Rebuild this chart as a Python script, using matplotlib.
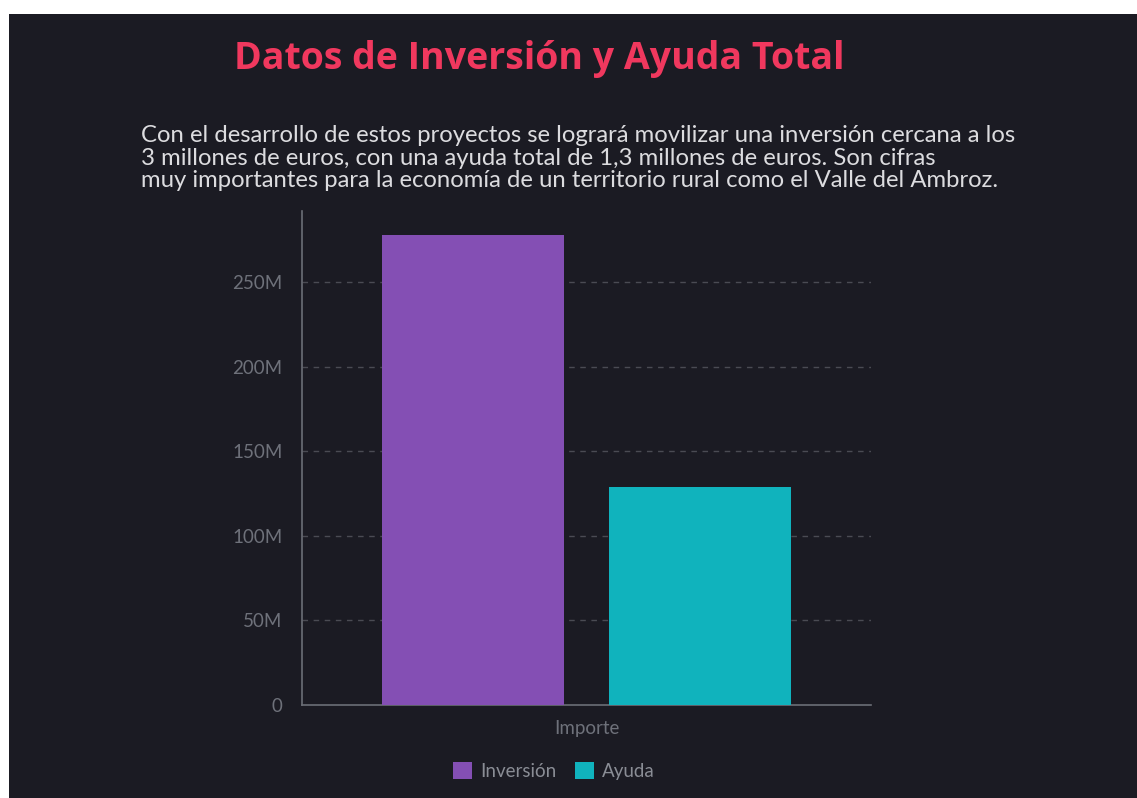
import numpy as np
import matplotlib.pyplot as plt
from matplotlib.patches import Rectangle
from matplotlib.ticker import FuncFormatter

# datos
categorias = ["Importe"]
series = ["Inversión", "Ayuda"]
inversion = [277.8e6]
ayuda = [128.8e6]
colores = ["#844fb4", "#10b3bd"]

BG = "#1b1b23"
titulo = "Datos de Inversión y Ayuda Total"
texto = ("Con el desarrollo de estos proyectos se logrará movilizar una inversión cercana a los\n"
         "3 millones de euros, con una ayuda total de 1,3 millones de euros. Son cifras\n"
         "muy importantes para la economía de un territorio rural como el Valle del Ambroz.")

W, H = 1137, 798
fig = plt.figure(figsize=(W / 100, H / 100), dpi=100)
fig.patch.set_facecolor("white")
# fondo oscuro (borde blanco arriba e izquierda)
fig.patches.append(Rectangle((9 / W, 0), 1, (H - 14) / H, transform=fig.transFigure,
                             facecolor=BG, edgecolor="none", zorder=-10))

ax = fig.add_axes([302 / W, (H - 705) / H, (871 - 302) / W, (705 - 211) / H])
ax.set_facecolor(BG)

x = np.arange(len(categorias))
ancho = 0.8
for i, (nombre, vals) in enumerate(zip(series, [inversion, ayuda])):
    ax.bar(x + (i - 0.5), vals, width=ancho, color=colores[i], label=nombre, zorder=3)

ax.set_xlim(-1.253, 1.253)
ax.set_ylim(0, 292e6)
ax.set_yticks(np.arange(0, 300e6, 50e6))
ax.yaxis.set_major_formatter(FuncFormatter(lambda v, p: "0" if v == 0 else f"{v / 1e6:.0f}M"))
ax.set_xticks(x)
ax.set_xticklabels(categorias)

ax.grid(axis="y", color="#4a4b53", linestyle=(0, (4, 4)), linewidth=1, zorder=0)
ygl = ax.get_ygridlines()
ygl[0].set_visible(False)

for s in ["top", "right"]:
    ax.spines[s].set_visible(False)
for s in ["left", "bottom"]:
    ax.spines[s].set_color("#6b6e76")
    ax.spines[s].set_linewidth(1.2)
ax.tick_params(axis="both", length=0, labelcolor="#6e717a", labelsize=13.5)
ax.tick_params(axis="y", pad=14)
ax.tick_params(axis="x", pad=11)
for t in ax.get_xticklabels() + ax.get_yticklabels():
    t.set_family("Lato")

fig.text(539 / W, 1 - 59 / H, titulo, ha="center", va="center", color="#f0385e",
         fontsize=27, fontweight="bold", family="Open Sans")
fig.text(141 / W, 1 - 125 / H, texto, ha="left", va="top", color="#dcdcdf",
         fontsize=17.2, family="Lato", linespacing=1.1)

h, l = ax.get_legend_handles_labels()
leg = fig.legend(h, l, loc="center", bbox_to_anchor=(554 / W, 1 - 771 / H), ncol=2,
                 frameon=False, handlelength=1.0, handleheight=1.0, handletextpad=0.45,
                 columnspacing=1.0, prop={"family": "Lato", "size": 13.5})
for t in leg.get_texts():
    t.set_color("#8a8d95")

fig.savefig("out.png", dpi=100, facecolor=fig.get_facecolor())
